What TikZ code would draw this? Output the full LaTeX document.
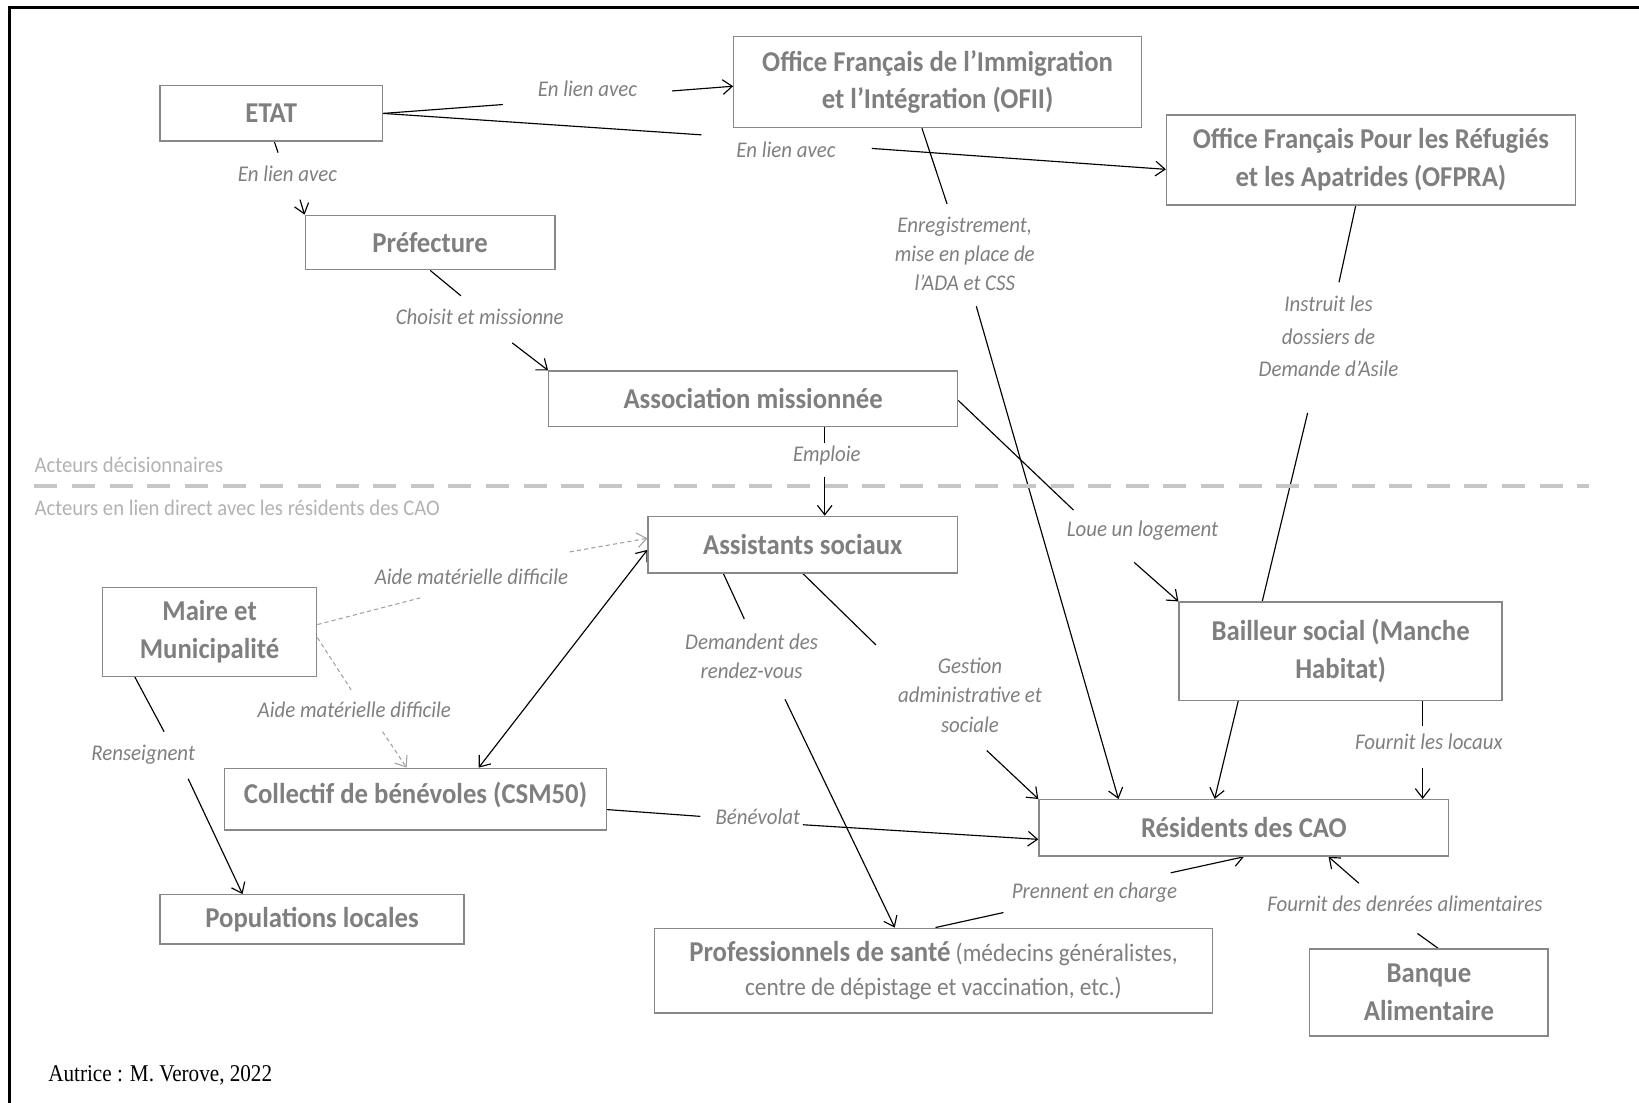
\documentclass[tikz,border=0pt]{standalone}
\usepackage{fontspec}
\setmainfont{Carlito}[FakeStretch=0.93]
\newfontfamily\timesf{Liberation Serif}[FakeStretch=0.88]
\usetikzlibrary{arrows.meta,backgrounds}
\definecolor{txtgray}{HTML}{7F7F7F}
\definecolor{boxgray}{HTML}{888888}
\definecolor{sepgray}{HTML}{C6C6C6}
\definecolor{septxt}{HTML}{B2B2B2}
\definecolor{dashgray}{HTML}{A0A0A0}
\tikzset{
  box/.style={draw=boxgray, line width=1.3pt, fill=white, inner sep=0pt, text=txtgray,
    font=\bfseries\fontsize{27.5}{36}\selectfont, align=center},
  lbl/.style={text=txtgray, font=\itshape\fontsize{21.5}{28}\selectfont, align=center, inner sep=0pt},
  septext/.style={text=septxt, font=\fontsize{21.3}{24}\selectfont, anchor=west, inner sep=0pt},
  conn/.style={draw=black, line width=1.1pt, -{Straight Barb[length=9pt,width=14pt,line width=1.1pt]}},
  dconn/.style={draw=dashgray, line width=1pt, dash pattern=on 4pt off 3pt,
    -{Straight Barb[length=9pt,width=14pt,line width=1pt]}},
  biconn/.style={draw=black, line width=1.1pt,
    {Straight Barb[length=9pt,width=14pt,line width=1.1pt]}-{Straight Barb[length=9pt,width=14pt,line width=1.1pt]}}
}
\begin{document}
\begin{tikzpicture}[x=1pt,y=-1pt]
\useasboundingbox (0,0) rectangle (1568,1055);
% outer frame (left and top edges visible)
\draw[line width=3pt] (9,1060) -- (9,7.5) -- (1570,7.5);

% boxes
\node[box, minimum width=213pt, minimum height=53pt] (etat) at (259.5,108.5) {ETAT};
\node[box, minimum width=390pt, minimum height=87pt] (ofii) at (897,78.5) {Office Français de l’Immigration\\et l’Intégration (OFII)};
\node[box, minimum width=391pt, minimum height=86pt] (ofpra) at (1311.5,153) {Office Français Pour les Réfugiés\\et les Apatrides (OFPRA)};
\node[box, minimum width=239pt, minimum height=52pt] (pref) at (411.5,232) {Préfecture};
\node[box, minimum width=391pt, minimum height=53pt] (asso) at (720.5,381.5) {Association missionnée};
\node[box, minimum width=296pt, minimum height=54pt] (assist) at (768,521) {Assistants sociaux};
\node[box, minimum width=205pt, minimum height=85pt] (maire) at (200.5,604.5) {Maire et\\Municipalité};
\node[box, minimum width=365pt, minimum height=59pt, text depth=12pt] (collectif) at (397.5,764.5) {Collectif de bénévoles (CSM50)};
\node[box, minimum width=291pt, minimum height=47pt] (popu) at (298.5,879.5) {Populations locales};
\node[box, minimum width=309pt, minimum height=94pt] (bailleur) at (1282.5,623) {Bailleur social (Manche\\Habitat)};
\node[box, minimum width=392pt, minimum height=54pt] (resid) at (1190,792) {Résidents des CAO};
\node[box, minimum width=534pt, minimum height=81pt, font=\fontsize{24}{32}\selectfont] (prof) at (893,928.5)
  {{\bfseries\fontsize{27.5}{32}\selectfont Professionnels de santé} (médecins généralistes,\\centre de dépistage et vaccination, etc.)};
\node[box, minimum width=228pt, minimum height=83pt] (banque) at (1367,949.5) {Banque\\Alimentaire};

% labels
\node[lbl] (l1) at (562,85) {En lien avec};
\node[lbl] (l2) at (752,143) {En lien avec};
\node[lbl] (l3) at (275,166) {En lien avec};
\node[lbl] (l4) at (459,303) {Choisit et missionne};
\node[lbl] (l5) at (791,436) {Emploie};
\node[lbl] (l6) at (1093,508) {Loue un logement};
\node[lbl] (l7) at (923,243) {Enregistrement,\\mise en place de\\l’ADA et CSS};
\node[lbl, font=\itshape\fontsize{21.5}{31}\selectfont] (l8) at (1271,322) {Instruit les\\dossiers de\\Demande d’Asile};
\node[lbl] (l9) at (719,628) {Demandent des\\rendez-vous};
\node[lbl] (l10) at (928,665) {Gestion\\administrative et\\sociale};
\node[lbl] (l11) at (1367,710) {Fournit les locaux};
\node[lbl] (l12) at (725,781) {Bénévolat};
\node[lbl] (l13) at (1047,854) {Prennent en charge};
\node[lbl] (l14) at (1344,865) {Fournit des denrées alimentaires};
\node[lbl] (l15) at (137,722) {Renseignent};
\node[lbl] (l16) at (451,552) {Aide matérielle difficile};
\node[lbl] (l17) at (339,679) {Aide matérielle difficile};

% separator
\node[septext] (sep1) at (33,445) {Acteurs décisionnaires};
\node[septext] (sep2) at (33,486) {Acteurs en lien direct avec les résidents des CAO};
\coordinate (sepL) at (33,465);
\coordinate (sepR) at (1520,465);
\draw[sepgray, line width=4pt, dash pattern=on 22pt off 14pt] (sepL) -- (sepR);

\node[anchor=west, inner sep=0pt, font=\timesf\fontsize{23}{26}\selectfont] (autrice) at (46,1029) {Autrice : M. Verove, 2022};

% gap coordinates
\coordinate (g1a) at (481,100); \coordinate (g1b) at (643,87);
\coordinate (g2a) at (671,129); \coordinate (g2b) at (834,142);
\coordinate (g3a) at (266,146); \coordinate (g3b) at (287,191);
\coordinate (g4a) at (441,283); \coordinate (g4b) at (490,328);
\coordinate (g5a) at (789,424); \coordinate (g5b) at (789,456);
\coordinate (g6a) at (1027,488); \coordinate (g6b) at (1085,538);
\coordinate (g7a) at (906,195); \coordinate (g7b) at (934,293);
\coordinate (g8a) at (1281,270); \coordinate (g8b) at (1251,395);
\coordinate (g9a) at (712,592); \coordinate (g9b) at (751,669);
\coordinate (g10a) at (838,617); \coordinate (g10b) at (944,718);
\coordinate (g11a) at (1361,695); \coordinate (g11b) at (1361,735);
\coordinate (g12a) at (670,781); \coordinate (g12b) at (768,789);
\coordinate (g13a) at (960,873); \coordinate (g13b) at (1120,835);
\coordinate (g14a) at (1356,893); \coordinate (g14b) at (1300,845);
\coordinate (g15a) at (157,700); \coordinate (g15b) at (180,745);
\coordinate (g16a) at (402,572); \coordinate (g16b) at (545,528);
\coordinate (g17a) at (336,660); \coordinate (g17b) at (366,700);

\begin{pgfonlayer}{background}
\draw[conn] (etat.east) -- (g1a) (g1b) -- ([yshift=-4pt]ofii.west);
\draw[conn] (etat.east) -- (g2a) (g2b) -- ([yshift=-9pt]ofpra.west);
\draw[conn] ([xshift=3pt]etat.south) -- (g3a) (g3b) -- (pref.north west);
\draw[conn] (pref.south) -- (g4a) (g4b) -- (asso.north west);
\draw[conn] ([xshift=68.5pt]asso.south) -- (g5a) (g5b) -- ([xshift=21pt]assist.north);
\draw[conn] ([yshift=-1.5pt]asso.east) -- (g6a) (g6b) -- (bailleur.north west);
\draw[conn] ([xshift=-15pt]ofii.south) -- (g7a) (g7b) -- ([xshift=-120pt]resid.north);
\draw[conn] ([xshift=-14.5pt]ofpra.south) -- (g8a) (g8b) -- ([xshift=-28pt]resid.north);
\draw[conn] ([xshift=-76pt]assist.south) -- (g9a) (g9b) -- ([xshift=-37pt]prof.north);
\draw[conn] (assist.south) -- (g10a) (g10b) -- (resid.north west);
\draw[conn] ([xshift=78.5pt]bailleur.south) -- (g11a) (g11b) -- ([xshift=171pt]resid.north);
\draw[conn] ([yshift=-10pt]collectif.east) -- (g12a) (g12b) -- ([yshift=-11pt]resid.west);
\draw[conn] ([xshift=2pt]prof.north) -- (g13a) (g13b) -- (resid.south);
\draw[conn] ([xshift=9pt]banque.north) -- (g14a) (g14b) -- ([xshift=81pt]resid.south);
\draw[conn] ([xshift=-71.5pt]maire.south) -- (g15a) (g15b) -- ([xshift=-66.5pt]popu.north);
\draw[dconn] ([yshift=7pt]maire.east) -- (g16a) (g16b) -- ([yshift=6pt]assist.west);
\draw[dconn] ([yshift=-5.5pt]maire.east) -- (g17a) (g17b) -- ([xshift=-8.5pt]collectif.north);
\draw[biconn] ([yshift=-5pt]assist.west) -- ([xshift=60.5pt]collectif.north);
\end{pgfonlayer}
\end{tikzpicture}
\end{document}
